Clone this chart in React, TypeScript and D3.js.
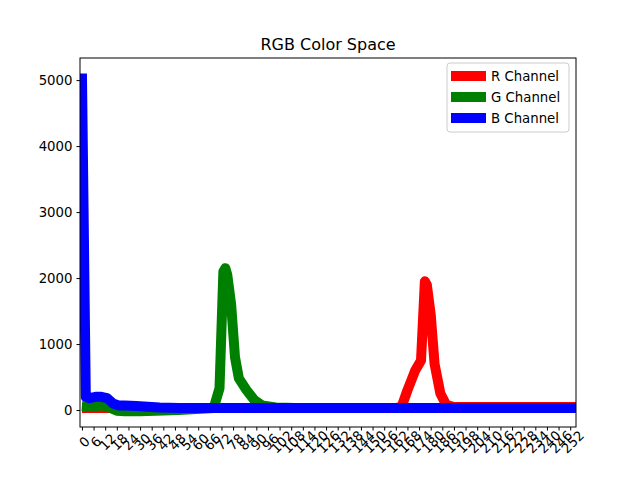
import { useEffect, useRef } from 'react';
import * as d3 from 'd3';

const rX = [0, 40, 100, 162, 165, 168, 172, 175, 177, 178, 180, 182, 185, 188, 192, 255];
const rY = [30, 30, 30, 30, 50, 300, 600, 750, 1950, 1900, 1450, 700, 250, 80, 45, 45];
const gX = [0, 4, 8, 10, 14, 18, 22, 30, 50, 68, 71, 73, 74, 75, 77, 79, 81, 85, 89, 93, 100, 110, 255];
const gY = [60, 50, 60, 70, 40, -10, -20, -20, 0, 30, 330, 2100, 2150, 2050, 1600, 800, 480, 300, 150, 70, 40, 30, 30];
const bX = [0, 2, 4, 7, 10, 13, 16, 19, 22, 28, 34, 40, 50, 255];
const bY = [5100, 200, 180, 200, 200, 180, 100, 70, 70, 60, 50, 40, 30, 30];
const series = [
  { name: 'R Channel', color: '#ff0000', xs: rX, ys: rY },
  { name: 'G Channel', color: '#008000', xs: gX, ys: gY },
  { name: 'B Channel', color: '#0000ff', xs: bX, ys: bY },
];
const xTicks = d3.range(0, 256, 6);
const yTicks = [0, 1000, 2000, 3000, 4000, 5000];

export default function App() {
  const ref = useRef<SVGSVGElement>(null);

  useEffect(() => {
    const svg = d3.select(ref.current);
    svg.selectAll('*').remove();
    const left = 80, right = 576, top = 58, bottom = 427;
    const x = d3.scaleLinear().domain([-1, 255]).range([left, right]);
    const y = d3.scaleLinear().domain([-257, 5335]).range([bottom, top]);
    const font = 'DejaVu Sans, sans-serif';

    svg.append('defs').append('clipPath').attr('id', 'clip')
      .append('rect').attr('x', left).attr('y', top).attr('width', right - left).attr('height', bottom - top);

    series.forEach(s => {
      const pts = s.xs.map((v, i) => [x(v), y(s.ys[i])] as [number, number]);
      svg.append('path')
        .attr('clip-path', 'url(#clip)')
        .attr('d', d3.line()(pts))
        .attr('fill', 'none').attr('stroke', s.color).attr('stroke-width', 10)
        .attr('stroke-linejoin', 'round');
    });

    svg.append('rect').attr('x', left).attr('y', top).attr('width', right - left).attr('height', bottom - top)
      .attr('fill', 'none').attr('stroke', '#000').attr('stroke-width', 1);

    const xa = svg.append('g').attr('transform', `translate(0,${bottom})`)
      .call(d3.axisBottom(x).tickValues(xTicks).tickSize(3.5).tickPadding(3).tickFormat(d3.format('d')));
    xa.select('.domain').remove();
    xa.selectAll('text').attr('font-family', font).attr('font-size', 13.3)
      .attr('text-anchor', 'middle').attr('y', 0).attr('dy', '0.35em')
      .attr('transform', 'translate(2,15) rotate(-45)');

    const ya = svg.append('g').attr('transform', `translate(${left},0)`)
      .call(d3.axisLeft(y).tickValues(yTicks).tickSize(3.5).tickPadding(4).tickFormat(d3.format('d')));
    ya.select('.domain').remove();
    ya.selectAll('text').attr('font-family', font).attr('font-size', 13.3);

    svg.append('text').attr('x', (left + right) / 2).attr('y', top - 8).attr('text-anchor', 'middle')
      .attr('font-family', font).attr('font-size', 16).text('RGB Color Space');

    const lg = svg.append('g').attr('transform', 'translate(447,63)');
    lg.append('rect').attr('width', 122).attr('height', 69).attr('rx', 3)
      .attr('fill', '#fff').attr('fill-opacity', 0.8).attr('stroke', '#ccc');
    series.forEach((s, i) => {
      const yy = 13 + i * 21;
      lg.append('line').attr('x1', 4).attr('x2', 39).attr('y1', yy).attr('y2', yy)
        .attr('stroke', s.color).attr('stroke-width', 10);
      lg.append('text').attr('x', 44).attr('y', yy).attr('dy', '0.35em')
        .attr('font-family', font).attr('font-size', 13.3).text(s.name);
    });
  }, []);

  return <svg ref={ref} width={640} height={480} style={{ display: 'block', margin: -8 }} />;
}
